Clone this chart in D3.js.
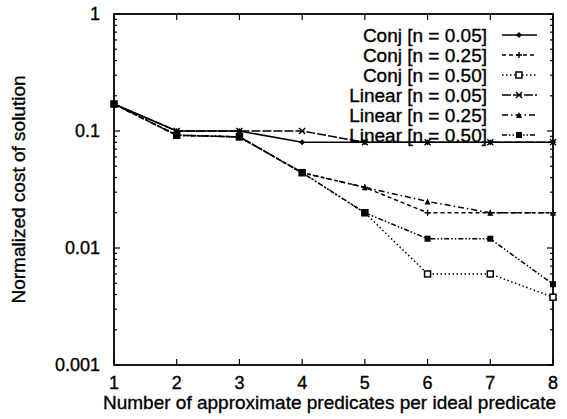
<!DOCTYPE html>
<html>
<head>
<meta charset="utf-8">
<script src="https://cdn.jsdelivr.net/npm/d3@7"></script>
<style>
  body { margin: 0; background: #fff; }
  text { font-family: "Liberation Sans", Arial, Helvetica, sans-serif; fill: #000; stroke: #000; stroke-width: 0.35px; }
</style>
</head>
<body>
<div id="chart"></div>
<script>
// x values: number of approximate predicates per ideal predicate
var xValues = [1, 2, 3, 4, 5, 6, 7, 8];

// series values (normalized cost)
var conj05 = [0.17, 0.1, 0.1, 0.08, 0.08, 0.08, 0.08, 0.08];
var conj25 = [0.17, 0.092, 0.089, 0.044, 0.033, 0.02, 0.02, 0.02];
var conj50 = [0.17, 0.092, 0.089, 0.044, 0.02, 0.006, 0.006, 0.0038];
var lin05 = [0.17, 0.1, 0.1, 0.1, 0.08, 0.08, 0.08, 0.08];
var lin25 = [0.17, 0.092, 0.089, 0.044, 0.033, 0.025, 0.02, 0.02];
var lin50 = [0.17, 0.092, 0.089, 0.044, 0.02, 0.012, 0.012, 0.0049];

var seriesNames = ["Conj [n = 0.05]", "Conj [n = 0.25]", "Conj [n = 0.50]",
                   "Linear [n = 0.05]", "Linear [n = 0.25]", "Linear [n = 0.50]"];
var yTickValues = [1, 0.1, 0.01, 0.001];
var yTickLabels = ["1", "0.1", "0.01", "0.001"];

var width = 567, height = 419;
var margin = { top: 14, right: 14, bottom: 54, left: 114 };

var series = [
  { name: seriesNames[0], values: conj05, dash: null, marker: "diamond" },
  { name: seriesNames[1], values: conj25, dash: "4,3", marker: "plus" },
  { name: seriesNames[2], values: conj50, dash: "1.5,2.5", marker: "box" },
  { name: seriesNames[3], values: lin05, dash: "9,2", marker: "cross" },
  { name: seriesNames[4], values: lin25, dash: "6,3,1.5,3", marker: "triangle" },
  { name: seriesNames[5], values: lin50, dash: "5,2,1.5,2,1.5,2", marker: "square" }
];

var svg = d3.select("#chart").append("svg")
  .attr("width", width)
  .attr("height", height);

var x = d3.scaleLinear()
  .domain([1, 8])
  .range([margin.left, width - margin.right]);

var y = d3.scaleLog()
  .domain([0.001, 1])
  .range([height - margin.bottom, margin.top]);

var x0 = x.range()[0], x1 = x.range()[1];
var y0 = y.range()[0], y1 = y.range()[1];

// ticks (mirrored, pointing inward)
var ticks = svg.append("g").attr("stroke", "#000").attr("stroke-width", 1.2);
xValues.forEach(function (v) {
  ticks.append("line").attr("x1", x(v)).attr("x2", x(v)).attr("y1", y0).attr("y2", y0 - 6);
  ticks.append("line").attr("x1", x(v)).attr("x2", x(v)).attr("y1", y1).attr("y2", y1 + 6);
});
y.ticks().forEach(function (v) {
  var major = yTickValues.indexOf(v) >= 0;
  var len = major ? 6 : 3;
  ticks.append("line").attr("x1", x0).attr("x2", x0 + len).attr("y1", y(v)).attr("y2", y(v));
  ticks.append("line").attr("x1", x1).attr("x2", x1 - len).attr("y1", y(v)).attr("y2", y(v));
});

// frame
svg.append("rect")
  .attr("x", x0).attr("y", y1)
  .attr("width", x1 - x0).attr("height", y0 - y1)
  .attr("fill", "none").attr("stroke", "#000").attr("stroke-width", 1.8);

// tick labels
svg.selectAll(".xlab").data(xValues).enter().append("text")
  .attr("x", function (d) { return x(d); })
  .attr("y", y0 + 24)
  .attr("text-anchor", "middle")
  .attr("font-size", 18)
  .text(function (d) { return d; });

svg.selectAll(".ylab").data(yTickValues).enter().append("text")
  .attr("x", x0 - 14)
  .attr("y", function (d) { return y(d) + 6; })
  .attr("text-anchor", "end")
  .attr("font-size", 18)
  .text(function (d, i) { return yTickLabels[i]; });

// axis titles
svg.append("text")
  .attr("x", (x0 + x1) / 2 - 4)
  .attr("y", y0 + 44)
  .attr("text-anchor", "middle")
  .attr("font-size", 19)
  .text("Number of approximate predicates per ideal predicate");

svg.append("text")
  .attr("transform", "translate(25," + ((y0 + y1) / 2) + ") rotate(-90)")
  .attr("text-anchor", "middle")
  .attr("font-size", 19)
  .text("Normalized cost of solution");

// markers
function drawMarker(g, type, cx, cy) {
  var s = 3;
  if (type === "diamond") {
    g.append("path").attr("d", "M" + cx + "," + (cy - s) + "L" + (cx + s) + "," + cy + "L" + cx + "," + (cy + s) + "L" + (cx - s) + "," + cy + "Z")
      .attr("fill", "#000");
  } else if (type === "plus") {
    g.append("path").attr("d", "M" + (cx - s) + "," + cy + "H" + (cx + s) + "M" + cx + "," + (cy - s) + "V" + (cy + s))
      .attr("stroke", "#000").attr("stroke-width", 1.4);
  } else if (type === "box") {
    g.append("rect").attr("x", cx - s).attr("y", cy - s).attr("width", 2 * s).attr("height", 2 * s)
      .attr("fill", "#fff").attr("stroke", "#000").attr("stroke-width", 1.5);
  } else if (type === "cross") {
    g.append("path").attr("d", "M" + (cx - s) + "," + (cy - s) + "L" + (cx + s) + "," + (cy + s) + "M" + (cx + s) + "," + (cy - s) + "L" + (cx - s) + "," + (cy + s))
      .attr("stroke", "#000").attr("stroke-width", 1.4);
  } else if (type === "triangle") {
    g.append("path").attr("d", "M" + cx + "," + (cy - s) + "L" + (cx + s) + "," + (cy + s) + "L" + (cx - s) + "," + (cy + s) + "Z")
      .attr("fill", "#000");
  } else if (type === "square") {
    g.append("rect").attr("x", cx - s).attr("y", cy - s).attr("width", 2 * s).attr("height", 2 * s)
      .attr("fill", "#000");
  }
}

var line = d3.line()
  .x(function (d, i) { return x(xValues[i]); })
  .y(function (d) { return y(d); });

var plot = svg.append("g");
series.forEach(function (s) {
  plot.append("path")
    .attr("d", line(s.values))
    .attr("fill", "none")
    .attr("stroke", "#000")
    .attr("stroke-width", 1.5)
    .attr("stroke-dasharray", s.dash);
  var mg = plot.append("g");
  s.values.forEach(function (v, i) {
    drawMarker(mg, s.marker, x(xValues[i]), y(v));
  });
});

// legend
var legend = svg.append("g");
series.forEach(function (s, i) {
  var ly = 35 + i * 20;
  legend.append("text")
    .attr("x", 487)
    .attr("y", ly + 7)
    .attr("text-anchor", "end")
    .attr("font-size", 19)
    .text(s.name);
  legend.append("line")
    .attr("x1", 502).attr("x2", 537)
    .attr("y1", ly).attr("y2", ly)
    .attr("stroke", "#000").attr("stroke-width", 1.5)
    .attr("stroke-dasharray", s.dash);
  drawMarker(legend, s.marker, 519, ly);
});
</script>
</body>
</html>
